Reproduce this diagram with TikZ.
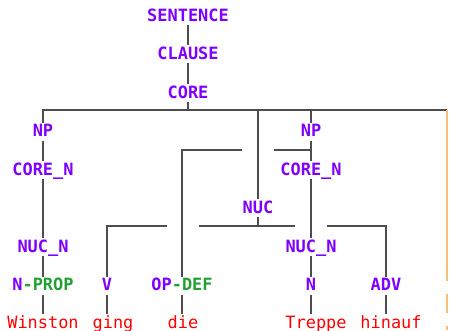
\documentclass[tikz,border=0pt]{standalone}
\usepackage{fontspec}
\newfontfamily\treefont{DejaVu Sans Mono}
\usepackage{xcolor}
\usetikzlibrary{calc}

\definecolor{catpurple}{RGB}{127,0,255}
\definecolor{catgreen}{RGB}{34,160,50}
\definecolor{wordred}{RGB}{255,0,0}
\definecolor{branchgray}{RGB}{77,77,77}
\definecolor{punctorange}{RGB}{250,190,120}

\tikzset{
  cat/.style={inner sep=0pt, outer sep=0pt, text height=14bp, text depth=4bp,
    font=\treefont\bfseries\fontsize{17}{20}\selectfont, text=catpurple},
  word/.style={cat, font=\treefont\fontsize{17}{20}\selectfont, text=wordred},
  branch/.style={draw=branchgray, line width=1.2bp},
  punct/.style={draw=punctorange, line width=1.2bp},
}

\begin{document}
\begin{tikzpicture}[x=1bp,y=1bp,yscale=-1,xscale=1]
    \useasboundingbox (0,0) rectangle (449,330);

    % Text Node
    \node[cat] (sentence) at (188,16) {SENTENCE};
    \node[cat] (clause) at (188,54) {CLAUSE};
    \node[cat] (core) at (188,93) {CORE};
    % Text Node
    \node[cat] (np1) at (43,131.5) {NP};
    \node[cat] (coren1) at (43,170) {CORE\_N};
    \node[cat] (nucn1) at (43,247) {NUC\_N};
    \node[cat] (nprop) at (43,285.5) {N\textcolor{catgreen}{-PROP}};
    \node[cat] (verb) at (107,285.5) {V};
    \node[cat] (opdef) at (182,285.5) {OP\textcolor{catgreen}{-DEF}};
    \node[cat] (nuc) at (258,208) {NUC};
    % Text Node
    \node[cat] (np2) at (311,131.5) {NP};
    \node[cat] (coren2) at (311,170) {CORE\_N};
    \node[cat] (nucn2) at (311,247) {NUC\_N};
    \node[cat] (noun) at (311,285.5) {N};
    \node[cat] (adv) at (386,285.5) {ADV};
    % Text Node
    \node[word] (winston) at (43,323) {Winston};
    \node[word] (ging) at (113,323) {ging};
    \node[word] (die) at (183,323) {die};
    \node[word] (treppe) at (316,323) {Treppe};
    \node[word] (hinauf) at (391,323) {hinauf};

    \coordinate (corebar) at (188,110);
    \coordinate (barR) at (447,110);
    \coordinate (punctA) at (447,281);
    \coordinate (punctB) at (447,294);
    \coordinate (punctC) at (447,313);
    \coordinate (punctD) at (447,326);
    \coordinate (punctE) at (447,330);
    \coordinate (opbar) at (182,150);
    \coordinate (nucbar) at (258,226);

    %Straight Lines
    \draw[branch] (sentence) -- (clause);
    \draw[branch] (clause) -- (core);
    \draw[branch] (core) -- (corebar);
    \draw[branch] (np1) |- (barR);
    \draw[branch] (np2) -- (np2 |- corebar);
    \draw[branch] (nuc) -- (nuc |- corebar);
    \draw[punct] (barR) -- (punctA);
    \draw[punct] (punctB) -- (punctC);
    \draw[punct] (punctD) -- (punctE);
    %Straight Lines
    \draw[branch] (np1) -- (coren1);
    \draw[branch] (coren1) -- (nucn1);
    \draw[branch] (nucn1) -- (nprop);
    \draw[branch] (nprop) -- (nprop |- winston.north);
    \draw[branch] (np2) -- (coren2);
    \draw[branch] (coren2) -- (nucn2);
    \draw[branch] (nucn2) -- (noun);
    \draw[branch] (noun) -- (noun |- treppe.north);
    \draw[branch] (verb) -- (verb |- ging.north);
    \draw[branch] (opdef) -- (opdef |- die.north);
    \draw[branch] (adv) -- (adv |- hinauf.north);
    %Straight Lines
    \draw[branch] (opdef) |- ($(nuc |- opbar)+(-16,0)$);
    \draw[branch] ($(nuc |- opbar)+(16,0)$) -- (np2 |- opbar);
    \draw[branch] (nuc) -- (nucbar);
    \draw[branch] (verb) |- ($(opdef |- nucbar)+(-15,0)$);
    \draw[branch] ($(opdef |- nucbar)+(17,0)$) -- ($(np2 |- nucbar)+(-16,0)$);
    \draw[branch] ($(np2 |- nucbar)+(16,0)$) -| (adv);

\end{tikzpicture}
\end{document}
